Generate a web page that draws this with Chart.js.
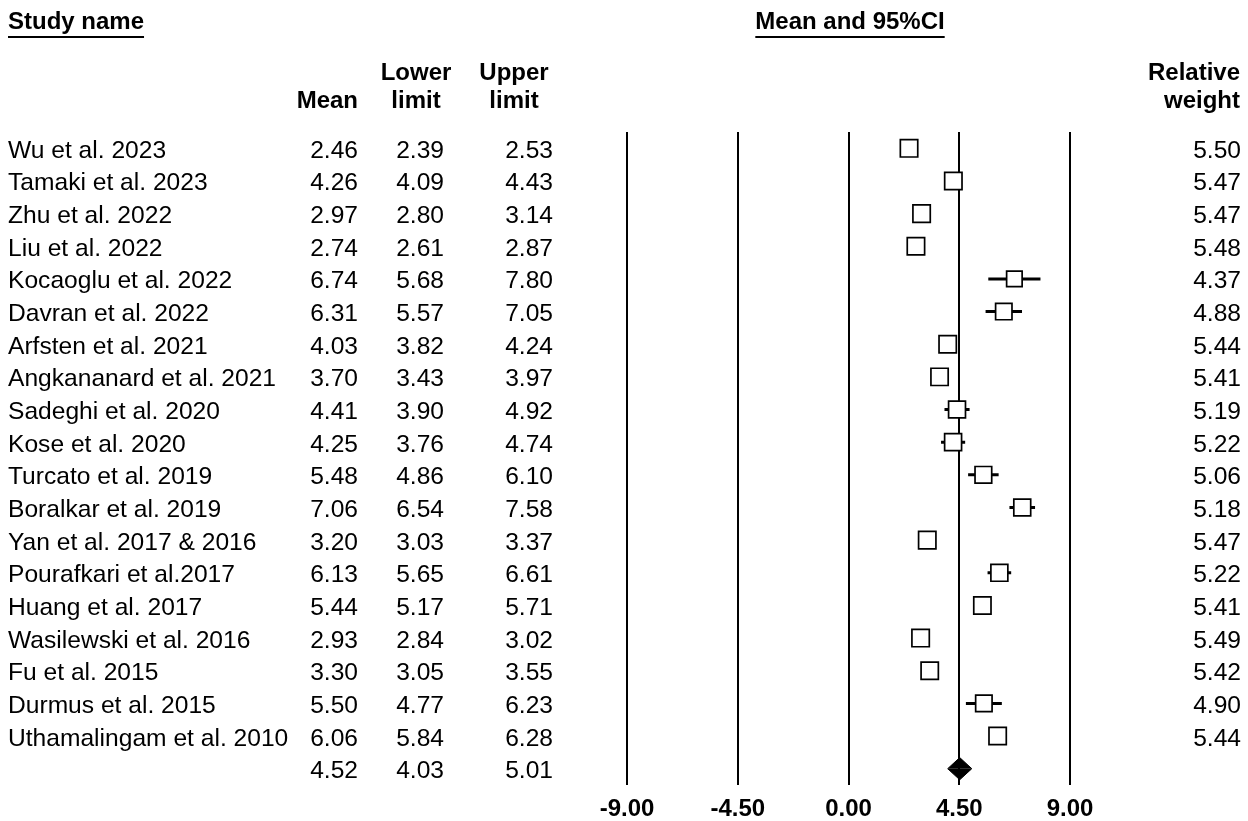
<!DOCTYPE html>
<html>
<head>
<meta charset="utf-8">
<script src="https://cdn.jsdelivr.net/npm/chart.js@4.4.0/dist/chart.umd.min.js"></script>
<style>
  html, body { margin: 0; padding: 0; background: #fff; }
  canvas { display: block; }
</style>
</head>
<body>
<canvas id="forest" width="1248" height="821"></canvas>
<script>
const studies = [
    'Wu et al. 2023', 'Tamaki et al. 2023', 'Zhu et al. 2022', 'Liu et al. 2022',
    'Kocaoglu et al. 2022', 'Davran et al. 2022', 'Arfsten et al. 2021',
    'Angkananard et al. 2021', 'Sadeghi et al. 2020', 'Kose et al. 2020',
    'Turcato et al. 2019', 'Boralkar et al. 2019', 'Yan et al. 2017 & 2016',
    'Pourafkari et al.2017', 'Huang et al. 2017', 'Wasilewski et al. 2016',
    'Fu et al. 2015', 'Durmus et al. 2015', 'Uthamalingam et al. 2010'
];
const means  = [2.46, 4.26, 2.97, 2.74, 6.74, 6.31, 4.03, 3.70, 4.41, 4.25, 5.48, 7.06, 3.20, 6.13, 5.44, 2.93, 3.30, 5.50, 6.06];
const lowers = [2.39, 4.09, 2.80, 2.61, 5.68, 5.57, 3.82, 3.43, 3.90, 3.76, 4.86, 6.54, 3.03, 5.65, 5.17, 2.84, 3.05, 4.77, 5.84];
const uppers = [2.53, 4.43, 3.14, 2.87, 7.80, 7.05, 4.24, 3.97, 4.92, 4.74, 6.10, 7.58, 3.37, 6.61, 5.71, 3.02, 3.55, 6.23, 6.28];
const weights = [5.50, 5.47, 5.47, 5.48, 4.37, 4.88, 5.44, 5.41, 5.19, 5.22, 5.06, 5.18, 5.47, 5.22, 5.41, 5.49, 5.42, 4.90, 5.44];
const pooledMean = 4.52;
const pooledLower = 4.03;
const pooledUpper = 5.01;
const xTicks = [-9, -4.5, 0, 4.5, 9];

const FONT = '"Liberation Sans", Arial, Helvetica, sans-serif';
const pooledRow = studies.length;

// squares (area follows the weight), whiskers with gaps between studies
const squarePts = means.map((m, i) => ({ x: m, y: i }));
const squareRadius = weights.map(w => 12.3 * Math.sqrt(w / 5.5));

const whiskerPts = [];
studies.forEach((s, i) => {
    whiskerPts.push({ x: lowers[i], y: i }, { x: uppers[i], y: i }, { x: uppers[i], y: null });
});

// pooled diamond as two filled halves
const dh = 0.34;
const diamondTop = [
    { x: pooledLower, y: pooledRow }, { x: pooledMean, y: pooledRow - dh }, { x: pooledUpper, y: pooledRow }
];
const diamondBottom = [
    { x: pooledLower, y: pooledRow }, { x: pooledMean, y: pooledRow + dh }, { x: pooledUpper, y: pooledRow }
];

const tablePlugin = {
    id: 'table',
    afterDraw(chart) {
        const ctx = chart.ctx;
        const ys = chart.scales.y;
        ctx.save();
        ctx.fillStyle = '#000';
        ctx.strokeStyle = '#000';
        ctx.textBaseline = 'middle';

        // headers
        ctx.font = 'bold 24px ' + FONT;
        ctx.textAlign = 'left';
        ctx.fillText('Study name', 8, 22);
        let w = ctx.measureText('Study name').width;
        ctx.lineWidth = 2;
        ctx.beginPath(); ctx.moveTo(8, 37); ctx.lineTo(8 + w, 37); ctx.stroke();

        ctx.textAlign = 'center';
        ctx.fillText('Mean and 95%CI', 850, 22);
        w = ctx.measureText('Mean and 95%CI').width;
        ctx.beginPath(); ctx.moveTo(850 - w / 2, 37); ctx.lineTo(850 + w / 2, 37); ctx.stroke();

        ctx.fillText('Lower', 416, 73);
        ctx.fillText('limit', 416, 101);
        ctx.fillText('Upper', 514, 73);
        ctx.fillText('limit', 514, 101);
        ctx.textAlign = 'right';
        ctx.fillText('Mean', 358, 101);
        ctx.fillText('Relative', 1240, 73);
        ctx.fillText('weight', 1240, 101);

        // rows
        ctx.font = '24.6px ' + FONT;
        ctx.textBaseline = 'alphabetic';
        studies.forEach((s, i) => {
            const y = ys.getPixelForValue(i) + 9.5;
            ctx.textAlign = 'left';
            ctx.fillText(s, 8, y);
            ctx.textAlign = 'right';
            ctx.fillText(means[i].toFixed(2), 358, y);
            ctx.fillText(lowers[i].toFixed(2), 444, y);
            ctx.fillText(uppers[i].toFixed(2), 553, y);
            ctx.fillText(weights[i].toFixed(2), 1241, y);
        });
        const py = ys.getPixelForValue(pooledRow) + 9.5;
        ctx.fillText(pooledMean.toFixed(2), 358, py);
        ctx.fillText(pooledLower.toFixed(2), 444, py);
        ctx.fillText(pooledUpper.toFixed(2), 553, py);
        ctx.restore();
    }
};

new Chart(document.getElementById('forest'), {
    type: 'scatter',
    data: {
        datasets: [
            {
                data: squarePts,
                pointStyle: 'rect',
                pointRadius: squareRadius,
                backgroundColor: '#fff',
                borderColor: '#000',
                borderWidth: 1.7,
                showLine: false
            },
            {
                data: whiskerPts,
                showLine: true,
                spanGaps: false,
                borderColor: '#000',
                borderWidth: 3,
                pointRadius: 0
            },
            {
                data: diamondTop,
                showLine: true,
                borderColor: '#000',
                backgroundColor: '#000',
                borderWidth: 1,
                pointRadius: 0,
                fill: { value: pooledRow }
            },
            {
                data: diamondBottom,
                showLine: true,
                borderColor: '#000',
                backgroundColor: '#000',
                borderWidth: 1,
                pointRadius: 0,
                fill: { value: pooledRow }
            }
        ]
    },
    options: {
        responsive: false,
        animation: false,
        devicePixelRatio: 1,
        layout: { padding: { left: 627, right: 178, top: 132, bottom: 0 } },
        plugins: { legend: { display: false }, tooltip: { enabled: false } },
        scales: {
            x: {
                type: 'linear',
                min: -9,
                max: 9,
                afterBuildTicks: s => { s.ticks = xTicks.map(v => ({ value: v })); },
                afterFit: s => { s.height = 36; },
                border: { display: false },
                grid: { color: '#000', lineWidth: 2, drawTicks: false },
                ticks: {
                    color: '#000',
                    padding: 10,
                    maxRotation: 0,
                    font: { family: FONT, size: 24, weight: 'bold' },
                    callback: v => Number(v).toFixed(2)
                }
            },
            y: {
                type: 'linear',
                display: false,
                reverse: true,
                min: -0.5,
                max: 19.5
            }
        }
    },
    plugins: [tablePlugin]
});
</script>
</body>
</html>
